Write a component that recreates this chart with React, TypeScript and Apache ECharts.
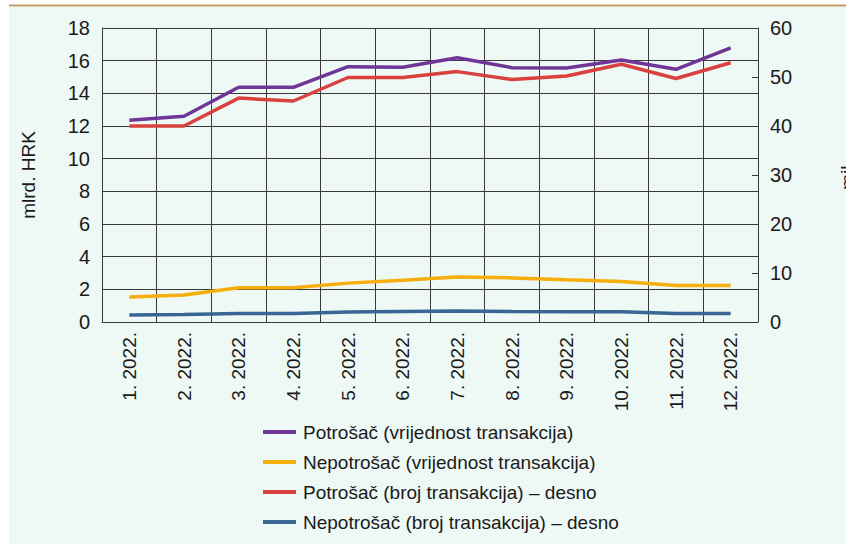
import React, { useEffect, useRef } from "react";
import * as echarts from "echarts";

const categories = ["1. 2022.", "2. 2022.", "3. 2022.", "4. 2022.", "5. 2022.", "6. 2022.", "7. 2022.", "8. 2022.", "9. 2022.", "10. 2022.", "11. 2022.", "12. 2022."];
const potrosacVrijednost = [12.35, 12.6, 14.37, 14.37, 15.63, 15.6, 16.18, 15.57, 15.55, 16.04, 15.47, 16.78];
const nepotrosacVrijednost = [1.53, 1.65, 2.1, 2.1, 2.38, 2.55, 2.76, 2.7, 2.58, 2.48, 2.23, 2.23];
const potrosacBroj = [40.0, 40.0, 45.7, 45.1, 49.9, 49.9, 51.1, 49.5, 50.2, 52.6, 49.7, 52.9];
const nepotrosacBroj = [1.43, 1.55, 1.76, 1.76, 2.04, 2.16, 2.24, 2.16, 2.1, 2.1, 1.76, 1.76];

const seriesNames = [
  "Potrošač (vrijednost transakcija)",
  "Nepotrošač (vrijednost transakcija)",
  "Potrošač (broj transakcija) – desno",
  "Nepotrošač (broj transakcija) – desno",
];
const colors = ["#6f3597", "#f5ae0c", "#d9413e", "#386796"];

const FONT = "'Liberation Sans Narrow', 'Liberation Sans', Arial, sans-serif";

export default function App() {
  const ref = useRef<HTMLDivElement>(null);
  useEffect(() => {
    if (!ref.current) return;
    const chart = echarts.init(ref.current, undefined, { renderer: "svg" });
    const gridColor = "#3a3a3a";
    const textColor = "#1a1a1a";
    chart.setOption({
      animation: false,
      backgroundColor: "#ffffff",
      graphic: [
        { type: "rect", shape: { x: 9, y: 7, width: 837, height: 537 }, style: { fill: "#eef8f5" }, silent: true, z: -10 },
        { type: "line", shape: { x1: 9, y1: 5.5, x2: 846, y2: 5.5 }, style: { stroke: "#c29d5f", lineWidth: 2 }, silent: true, z: -10 },
      ],
      grid: { left: 102, right: 88, top: 28, bottom: 222, containLabel: false, outerBoundsMode: "none" },
      legend: {
        orient: "vertical",
        left: 258,
        top: 417,
        itemWidth: 33,
        itemHeight: 4,
        itemGap: 10,
        icon: "rect",
        textStyle: { fontFamily: FONT, fontSize: 19, color: textColor, lineHeight: 20, padding: [0, 0, 0, 2] },
        data: seriesNames,
      },
      xAxis: {
        type: "category",
        data: categories,
        boundaryGap: true,
        axisLine: { show: true, lineStyle: { color: gridColor, width: 1 } },
        axisTick: { show: false },
        splitLine: { show: true, lineStyle: { color: gridColor, width: 1 } },
        axisLabel: { rotate: 90, margin: 10, fontFamily: FONT, fontSize: 19, color: textColor, interval: 0 },
      },
      yAxis: [
        {
          type: "value",
          min: 0,
          max: 18,
          interval: 2,
          position: "left",
          name: "mlrd. HRK",
          nameLocation: "middle",
          nameGap: 64,
          nameRotate: 90,
          nameTextStyle: { fontFamily: FONT, fontSize: 19, color: textColor },
          axisLine: { show: true, lineStyle: { color: gridColor, width: 1 } },
          axisTick: { show: true, inside: true, length: 5, lineStyle: { color: gridColor } },
          splitLine: { show: true, lineStyle: { color: gridColor, width: 1 } },
          axisLabel: { margin: 12, fontFamily: FONT, fontSize: 20, color: textColor },
        },
        {
          type: "value",
          min: 0,
          max: 60,
          interval: 10,
          position: "right",
          name: "mil.",
          nameLocation: "middle",
          nameGap: 80,
          nameRotate: 90,
          nameTextStyle: { fontFamily: FONT, fontSize: 19, color: textColor },
          axisLine: { show: true, lineStyle: { color: gridColor, width: 1 } },
          axisTick: { show: true, inside: true, length: 6, lineStyle: { color: gridColor } },
          splitLine: { show: false },
          axisLabel: { margin: 12, fontFamily: FONT, fontSize: 20, color: textColor },
        },
      ],
      series: [
        { name: seriesNames[0], type: "line", yAxisIndex: 0, data: potrosacVrijednost, symbol: "none", lineStyle: { width: 3.5, color: colors[0] }, itemStyle: { color: colors[0] } },
        { name: seriesNames[1], type: "line", yAxisIndex: 0, data: nepotrosacVrijednost, symbol: "none", lineStyle: { width: 3.5, color: colors[1] }, itemStyle: { color: colors[1] } },
        { name: seriesNames[2], type: "line", yAxisIndex: 1, data: potrosacBroj, symbol: "none", lineStyle: { width: 3.5, color: colors[2] }, itemStyle: { color: colors[2] } },
        { name: seriesNames[3], type: "line", yAxisIndex: 1, data: nepotrosacBroj, symbol: "none", lineStyle: { width: 3.5, color: colors[3] }, itemStyle: { color: colors[3] } },
      ],
    });
    return () => chart.dispose();
  }, []);
  return <div ref={ref} style={{ position: "fixed", left: 0, top: 0, width: 846, height: 544 }} />;
}
